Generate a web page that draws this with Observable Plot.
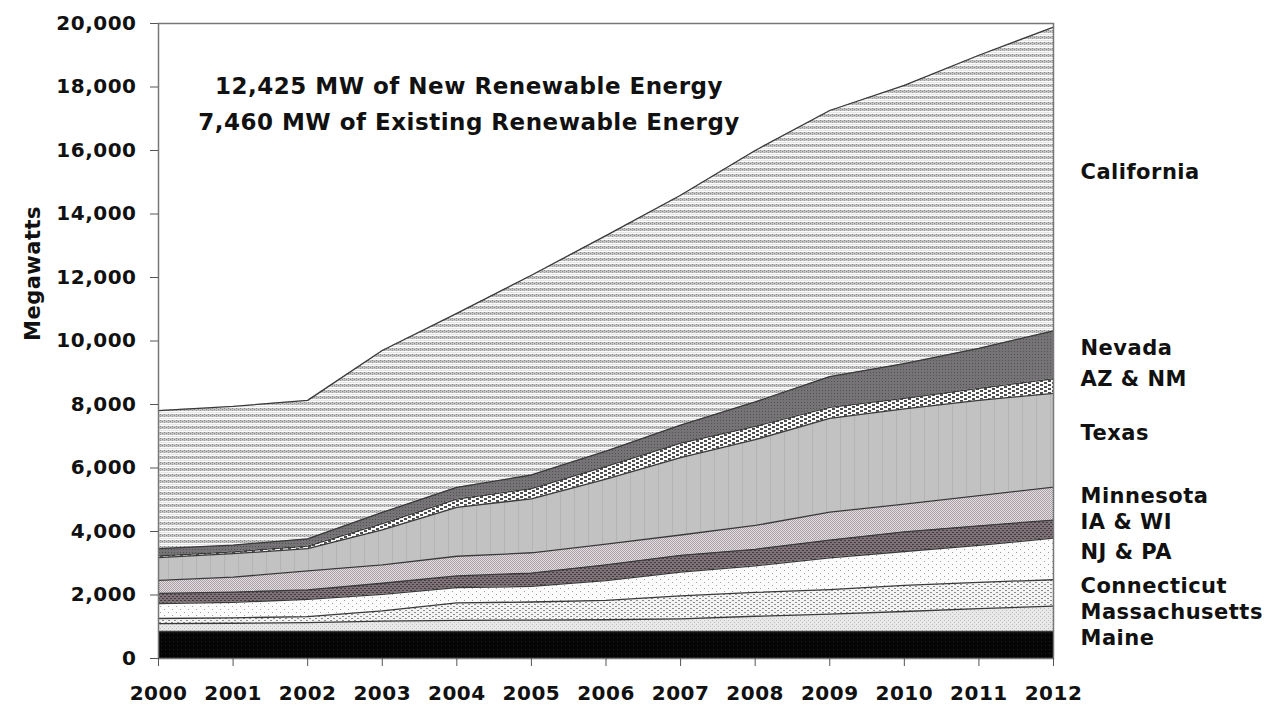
<!DOCTYPE html>
<html>
<head>
<meta charset="utf-8">
<script src="https://cdn.jsdelivr.net/npm/d3@7"></script>
<script src="https://cdn.jsdelivr.net/npm/@observablehq/plot@0.6"></script>
<style>
  html, body { margin: 0; padding: 0; background: #fff; }
</style>
</head>
<body>
<div id="chart"></div>
<script>
// ---- data (MW per state, stacked bottom → top) ----
const years = [2000, 2001, 2002, 2003, 2004, 2005, 2006, 2007, 2008, 2009, 2010, 2011, 2012];
const states = ["Maine", "Massachusetts", "Connecticut", "NJ & PA", "IA & WI", "Minnesota", "Texas", "AZ & NM", "Nevada", "California"];

const maine         = [850, 850, 850, 850, 850, 850, 850, 850, 850, 850, 850, 850, 850];
const massachusetts = [250, 260, 280, 330, 350, 360, 370, 400, 480, 550, 630, 720, 800];
const connecticut   = [160, 170, 190, 320, 550, 570, 610, 720, 750, 770, 820, 830, 830];
const njPa          = [470, 490, 540, 520, 480, 490, 620, 750, 840, 1000, 1070, 1160, 1310];
const iaWi          = [320, 320, 300, 350, 370, 420, 500, 530, 520, 560, 620, 620, 570];
const minnesota     = [410, 470, 600, 580, 620, 640, 650, 640, 750, 880, 870, 950, 1040];
const texas         = [720, 740, 700, 1100, 1540, 1700, 2050, 2440, 2700, 2950, 3000, 3000, 2950];
const azNm          = [50, 60, 80, 200, 260, 320, 400, 450, 420, 350, 330, 380, 460];
const nevada        = [230, 210, 230, 350, 370, 430, 480, 570, 770, 970, 1100, 1260, 1510];
const california    = [4350, 4370, 4360, 5100, 5480, 6290, 6790, 7240, 7920, 8380, 8760, 9230, 9565];

const yTicks = [0, 2000, 4000, 6000, 8000, 10000, 12000, 14000, 16000, 18000, 20000];
const noteNew = "12,425 MW of New Renewable Energy";
const noteExisting = "7,460 MW of Existing Renewable Energy";
const yLabel = "Megawatts";

// ---- build long table ----
const seriesList = [maine, massachusetts, connecticut, njPa, iaWi, minnesota, texas, azNm, nevada, california];
const data = states.flatMap((s, si) => years.map((yr, i) => ({state: s, year: yr, value: seriesList[si][i]})));
const lastYear = years[years.length - 1];
const patternFills = states.map((s, i) => `url(#pat${i})`);

const chart = Plot.plot({
  width: 1274,
  height: 709,
  marginLeft: 158,
  marginRight: 221,
  marginTop: 23,
  marginBottom: 51,
  style: {fontFamily: "'DejaVu Sans', sans-serif", fontWeight: "bold", color: "#111", background: "#fff", letterSpacing: "0.5px"},
  x: {domain: [years[0], lastYear], label: null},
  y: {domain: [yTicks[0], yTicks[yTicks.length - 1]], label: null},
  color: {type: "ordinal", domain: states, range: patternFills},
  marks: [
    Plot.areaY(data, Plot.stackY({x: "year", y: "value", z: "state", order: states, fill: "state"})),
    Plot.lineY(data, Plot.stackY2({x: "year", y: "value", z: "state", order: states, stroke: "#3a3a3a", strokeWidth: 1.3})),
    Plot.frame({stroke: "#777", strokeWidth: 1.5}),
    Plot.axisY({ticks: yTicks, tickFormat: d3.format(","), tickSize: 8, tickPadding: 14, fontSize: 20, label: null, stroke: "#555"}),
    Plot.axisX({ticks: years, tickFormat: d3.format("d"), tickSize: 8, tickPadding: 19, fontSize: 20, label: null, stroke: "#555"}),
    Plot.text([noteNew], {frameAnchor: "top", dx: -137, dy: 54, fontSize: 23, fill: "#111"}),
    Plot.text([noteExisting], {frameAnchor: "top", dx: -137, dy: 90, fontSize: 23, fill: "#111"}),
    Plot.text([yLabel], {frameAnchor: "left", dx: -125, rotate: -90, fontSize: 21, fill: "#111"}),
    Plot.text(data.filter(d => d.year === lastYear),
      Plot.stackY({x: "year", y: "value", z: "state", order: states, text: "state", textAnchor: "start", dx: 27, dy: -7, fontSize: 21, fill: "#111"}))
  ]
});

// grayscale fill patterns, as in the original print-style chart
const defs = document.createElementNS("http://www.w3.org/2000/svg", "defs");
defs.innerHTML = `
  <pattern id="pat0" width="4" height="4" patternUnits="userSpaceOnUse">
    <rect width="4" height="4" fill="#050505"/><rect x="1" y="1" width="1" height="1" fill="#222"/>
  </pattern>
  <pattern id="pat1" width="4" height="4" patternUnits="userSpaceOnUse">
    <rect width="4" height="4" fill="#e8e8e8"/><rect x="0" y="0" width="1" height="1" fill="#bdbdbd"/><rect x="2" y="2" width="1" height="1" fill="#bdbdbd"/>
  </pattern>
  <pattern id="pat2" width="6" height="4" patternUnits="userSpaceOnUse">
    <rect width="6" height="4" fill="#f3f3f3"/><rect x="0" y="0" width="2" height="1" fill="#8c8c8c"/><rect x="3" y="2" width="2" height="1" fill="#8c8c8c"/>
  </pattern>
  <pattern id="pat3" width="8" height="6" patternUnits="userSpaceOnUse">
    <rect width="8" height="6" fill="#fbfbfb"/><rect x="0" y="0" width="1" height="1" fill="#a0a0a0"/><rect x="4" y="3" width="1" height="1" fill="#a0a0a0"/>
  </pattern>
  <pattern id="pat4" width="4" height="4" patternUnits="userSpaceOnUse">
    <rect width="4" height="4" fill="#7e7278"/><rect x="0" y="0" width="2" height="1" fill="#433d40"/><rect x="2" y="2" width="2" height="1" fill="#433d40"/>
  </pattern>
  <pattern id="pat5" width="2" height="2" patternUnits="userSpaceOnUse">
    <rect width="2" height="2" fill="#e4dde1"/><rect x="0" y="0" width="1" height="1" fill="#a8a0a5"/><rect x="1" y="1" width="1" height="1" fill="#a8a0a5"/>
  </pattern>
  <pattern id="pat6" width="14" height="4" patternUnits="userSpaceOnUse">
    <rect width="14" height="4" fill="#c2c2c2"/><rect x="0" y="0" width="1" height="4" fill="#b4b4b4"/>
  </pattern>
  <pattern id="pat7" width="8" height="4" patternUnits="userSpaceOnUse">
    <rect width="8" height="4" fill="#fafafa"/><rect x="0" y="0" width="3" height="2" fill="#4d4d4d"/><rect x="4" y="2" width="3" height="2" fill="#4d4d4d"/>
  </pattern>
  <pattern id="pat8" width="3" height="3" patternUnits="userSpaceOnUse">
    <rect width="3" height="3" fill="#767377"/><rect x="0" y="0" width="1" height="1" fill="#545154"/>
  </pattern>
  <pattern id="pat9" width="4" height="6" patternUnits="userSpaceOnUse">
    <rect width="4" height="6" fill="#fbfbfb"/><rect x="0" y="0" width="4" height="3" fill="#c4c4c4"/>
    <rect x="0" y="0" width="1" height="1" fill="#8a8a8a"/><rect x="2" y="1" width="1" height="1" fill="#8a8a8a"/><rect x="0" y="2" width="1" height="1" fill="#9a9a9a"/>
    <rect x="0" y="4" width="4" height="1" fill="#e6e6e6"/>
  </pattern>`;
chart.insertBefore(defs, chart.firstChild);

document.getElementById("chart").appendChild(chart);
</script>
</body>
</html>
